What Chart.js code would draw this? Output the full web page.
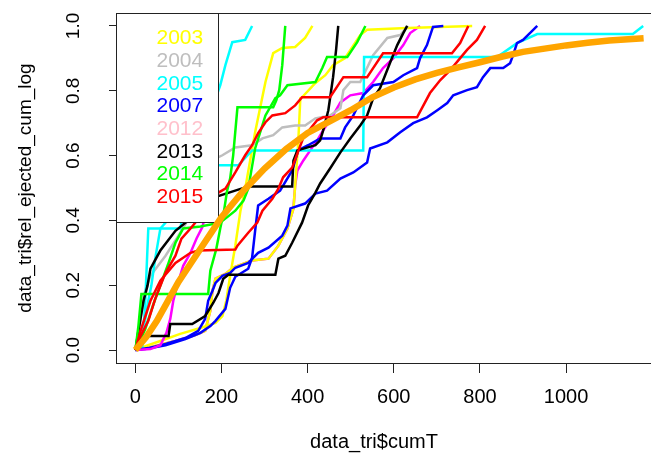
<!DOCTYPE html>
<html>
<head>
<meta charset="utf-8">
<script src="https://cdn.jsdelivr.net/npm/chart.js@4.4.1/dist/chart.umd.min.js"></script>
<style>
  html, body { margin: 0; padding: 0; background: #fff; overflow: hidden; }
  canvas { display: block; }
</style>
</head>
<body>
<canvas id="tri-chart" width="680" height="455"></canvas>
<script>
// legend
const years = ['2003', '2004', '2005', '2007', '2012', '2013', '2014', '2015'];
const yearColors = ['#FFFF00', '#BEBEBE', '#00FFFF', '#0000FF', '#FFC0CB', '#000000', '#00FF00', '#FF0000'];

// axis ticks
const xTicks = [0, 200, 400, 600, 800, 1000];
const yTicks = [0, 0.2, 0.4, 0.6, 0.8, 1.0];
const xTitle = 'data_tri$cumT';
const yTitle = 'data_tri$rel_ejected_cum_log';

// x = data_tri$cumT, y = data_tri$rel_ejected_cum_log
const yellowAX = [2, 23, 58, 104, 151, 186, 202, 211, 220, 232, 244, 255, 278, 302, 320, 341, 371, 394, 411];
const yellowAY = [0, 0.012, 0.028, 0.05, 0.068, 0.084, 0.105, 0.152, 0.229, 0.322, 0.43, 0.498, 0.672, 0.827, 0.916, 0.932, 0.935, 0.963, 1.0];
const yellowBX = [2, 35, 93, 139, 162, 174, 179, 186, 209, 227, 271, 309, 332, 353, 367, 371, 378, 383, 387, 418, 441, 459, 487, 522, 538, 631, 782];
const yellowBY = [0, 0.009, 0.028, 0.046, 0.059, 0.121, 0.183, 0.22, 0.235, 0.254, 0.276, 0.282, 0.322, 0.375, 0.437, 0.508, 0.638, 0.777, 0.78, 0.824, 0.848, 0.879, 0.901, 0.972, 0.988, 0.994, 1.0];

const grayX = [0, 12, 19, 35, 70, 100, 128, 162, 186, 202, 232, 271, 295, 320, 341, 371, 394, 418, 452, 476, 483, 499, 522, 552, 585, 615, 633];
const grayY = [0, 0.09, 0.167, 0.229, 0.291, 0.353, 0.415, 0.508, 0.591, 0.601, 0.625, 0.632, 0.653, 0.663, 0.687, 0.693, 0.693, 0.715, 0.724, 0.746, 0.802, 0.827, 0.827, 0.91, 0.963, 0.972, 1.0];

const cyanAX = [0, 16, 23, 30, 104, 128, 162, 193, 197, 209, 225, 255, 271];
const cyanAY = [0, 0.006, 0.152, 0.375, 0.375, 0.523, 0.678, 0.802, 0.817, 0.879, 0.95, 0.957, 1.0];
const cyanBX = [0, 12, 23, 30, 37, 46, 58, 116, 174, 186, 239, 271, 529, 531, 840, 886, 933, 1155, 1179];
const cyanBY = [0, 0.028, 0.096, 0.152, 0.198, 0.282, 0.375, 0.461, 0.56, 0.57, 0.57, 0.616, 0.616, 0.904, 0.904, 0.947, 0.975, 0.975, 1.0];

const blueAX = [0, 30, 70, 116, 146, 162, 169, 179, 186, 202, 220, 232, 262, 285, 309, 341, 353, 360, 394, 418, 445, 476, 506, 538, 545, 585, 615, 645, 677, 701, 724, 738, 770, 793, 807, 824, 854, 870, 877, 886, 900, 916, 933];
const blueAY = [0, 0.006, 0.019, 0.037, 0.059, 0.096, 0.152, 0.183, 0.207, 0.229, 0.238, 0.254, 0.269, 0.3, 0.316, 0.353, 0.384, 0.437, 0.452, 0.483, 0.492, 0.529, 0.548, 0.579, 0.622, 0.641, 0.672, 0.7, 0.718, 0.74, 0.762, 0.786, 0.802, 0.811, 0.842, 0.87, 0.87, 0.885, 0.91, 0.947, 0.957, 0.978, 1.0];
const blueBX = [0, 23, 70, 116, 151, 174, 186, 209, 220, 232, 262, 271, 278, 285, 309, 336, 364, 378, 401, 429, 476, 487, 506, 529, 552, 599, 622, 654, 661, 677, 691, 715];
const blueBY = [0, 0.003, 0.015, 0.034, 0.053, 0.074, 0.09, 0.127, 0.192, 0.226, 0.251, 0.285, 0.368, 0.446, 0.467, 0.492, 0.554, 0.616, 0.632, 0.653, 0.653, 0.687, 0.724, 0.786, 0.817, 0.827, 0.848, 0.87, 0.901, 0.941, 0.997, 1.0];

// magenta: early run (ends behind the legend) and late run (runs under yellow B at first)
const magentaAX = [0, 35, 58, 72, 81, 88, 97, 111, 128, 142, 155, 170, 175];
const magentaAY = [0, 0.003, 0.015, 0.053, 0.096, 0.152, 0.198, 0.26, 0.3, 0.344, 0.378, 0.45, 1.0];
const magentaBX = [2, 35, 93, 139, 162, 174, 179, 186, 209, 227, 271, 309, 332, 353, 367, 371, 376, 390, 406, 422, 436, 459, 476, 499, 529, 552, 575, 599, 622, 638, 661];
const magentaBY = [0, 0.009, 0.028, 0.046, 0.059, 0.121, 0.183, 0.22, 0.235, 0.254, 0.276, 0.282, 0.322, 0.375, 0.437, 0.508, 0.554, 0.585, 0.616, 0.647, 0.678, 0.724, 0.764, 0.786, 0.793, 0.827, 0.87, 0.901, 0.941, 0.978, 1.0];

const blackAX = [0, 7, 19, 28, 35, 58, 93, 151, 180, 262, 297, 364, 367, 376, 418, 429, 436, 448, 459, 466, 471];
const blackAY = [0, 0.059, 0.152, 0.198, 0.251, 0.307, 0.368, 0.43, 0.47, 0.505, 0.505, 0.505, 0.585, 0.616, 0.632, 0.647, 0.678, 0.74, 0.842, 0.926, 1.0];
const blackBX = [0, 12, 26, 77, 81, 132, 162, 181, 193, 204, 216, 248, 325, 332, 348, 364, 387, 401, 418, 429, 452, 476, 499, 522, 538, 552, 568, 592, 608, 622, 631];
const blackBY = [0, 0.012, 0.043, 0.043, 0.08, 0.08, 0.105, 0.146, 0.176, 0.22, 0.232, 0.232, 0.232, 0.282, 0.291, 0.331, 0.393, 0.446, 0.486, 0.514, 0.56, 0.61, 0.653, 0.693, 0.724, 0.777, 0.808, 0.889, 0.941, 0.978, 1.0];

const greenAX = [0, 7, 14, 169, 174, 188, 197, 206, 213, 220, 227, 237, 320, 327, 334, 341, 348];
const greenAY = [0, 0.074, 0.173, 0.173, 0.245, 0.313, 0.375, 0.431, 0.492, 0.529, 0.6, 0.749, 0.749, 0.77, 0.802, 0.879, 1.0];
const greenBX = [0, 23, 42, 60, 77, 93, 111, 151, 197, 232, 251, 262, 278, 302, 325, 336, 353, 418, 434, 445, 492, 515, 534];
const greenBY = [0, 0.065, 0.142, 0.207, 0.269, 0.331, 0.375, 0.381, 0.393, 0.43, 0.461, 0.498, 0.622, 0.724, 0.777, 0.786, 0.817, 0.827, 0.87, 0.904, 0.904, 0.95, 1.0];

const redAX = [0, 12, 30, 46, 70, 93, 107, 128, 162, 193, 209, 232, 255, 271, 285, 302, 318, 348, 371, 387, 452, 483, 538, 552, 575, 735, 754, 773];
const redAY = [0, 0.043, 0.09, 0.158, 0.238, 0.291, 0.344, 0.375, 0.43, 0.486, 0.498, 0.548, 0.601, 0.632, 0.669, 0.703, 0.724, 0.731, 0.755, 0.78, 0.78, 0.842, 0.842, 0.87, 0.916, 0.916, 0.947, 1.0];
const redBX = [0, 12, 35, 58, 93, 128, 146, 232, 237, 262, 283, 295, 318, 332, 343, 364, 390, 422, 436, 654, 684, 708, 731, 770, 793, 812];
const redBY = [0, 0.059, 0.152, 0.214, 0.269, 0.3, 0.307, 0.31, 0.322, 0.362, 0.393, 0.43, 0.467, 0.498, 0.533, 0.563, 0.656, 0.709, 0.718, 0.718, 0.793, 0.833, 0.864, 0.926, 0.957, 1.0];

// fitted curve
const fitX = [0, 25, 50, 75, 100, 125, 150, 175, 200, 250, 300, 350, 400, 450, 500, 550, 600, 650, 700, 750, 800, 850, 900, 950, 1000, 1050, 1100, 1180];
const fitY = [0, 0.04, 0.09, 0.15, 0.21, 0.26, 0.31, 0.36, 0.41, 0.49, 0.56, 0.62, 0.67, 0.705, 0.74, 0.78, 0.81, 0.835, 0.855, 0.872, 0.888, 0.905, 0.92, 0.93, 0.94, 0.948, 0.955, 0.962];

function toPoints(xs, ys) {
	return xs.map((x, i) => ({ x: x, y: ys[i] }));
}

function series(xs, ys, color, width) {
	return {
		data: toPoints(xs, ys),
		borderColor: color,
		backgroundColor: color,
		borderWidth: width,
		pointRadius: 0,
		tension: 0,
		fill: false,
	};
}

// first dataset is drawn last (on top)
const datasets = [
	series(fitX, fitY, '#FFA500', 6.5),
	series(redAX, redAY, '#FF0000', 2.5),
	series(redBX, redBY, '#FF0000', 2.5),
	series(greenAX, greenAY, '#00FF00', 2.5),
	series(greenBX, greenBY, '#00FF00', 2.5),
	series(blackAX, blackAY, '#000000', 2.5),
	series(blackBX, blackBY, '#000000', 2.5),
	series(magentaAX, magentaAY, '#FF00FF', 2.5),
	series(blueAX, blueAY, '#0000FF', 2.5),
	series(blueBX, blueBY, '#0000FF', 2.5),
	series(cyanAX, cyanAY, '#00FFFF', 2.5),
	series(cyanBX, cyanBY, '#00FFFF', 2.5),
	series(grayX, grayY, '#BEBEBE', 2.5),
	series(yellowAX, yellowAY, '#FFFF00', 2.5),
	series(yellowBX, yellowBY, '#FFFF00', 2.5),
	series(magentaBX, magentaBY, '#FF00FF', 2.5),
];

const font = 'Liberation Sans, Arial, sans-serif';

// R style legend box, drawn just before the fitted curve
const yearLegend = {
	id: 'yearLegend',
	beforeDatasetDraw(chart, args) {
		if (args.index !== 0) {
			return;
		}
		const ctx = chart.ctx;
		const area = chart.chartArea;
		const left = area.left + 0.5;
		const top = area.top + 0.5;
		ctx.save();
		ctx.fillStyle = '#fff';
		ctx.fillRect(left, top, 102, 209);
		ctx.strokeStyle = '#222';
		ctx.lineWidth = 1;
		ctx.strokeRect(left, top, 102, 209);
		ctx.font = '21px ' + font;
		ctx.textAlign = 'left';
		ctx.textBaseline = 'middle';
		years.forEach((label, i) => {
			ctx.fillStyle = yearColors[i];
			ctx.fillText(label, left + 40, top + 25 + i * 22.7);
		});
		ctx.restore();
	},
};

// box round the plot and the x label
const plotFrame = {
	id: 'plotFrame',
	afterDraw(chart) {
		const ctx = chart.ctx;
		const a = chart.chartArea;
		ctx.save();
		ctx.strokeStyle = '#222';
		ctx.lineWidth = 1;
		ctx.strokeRect(a.left + 0.5, a.top + 0.5, a.right - a.left, a.bottom - a.top);
		ctx.fillStyle = '#000';
		ctx.font = '20px ' + font;
		ctx.textAlign = 'center';
		ctx.textBaseline = 'middle';
		ctx.fillText(xTitle, 374, 442);
		ctx.restore();
	},
};

document.addEventListener('DOMContentLoaded', () => {
	const ctx = document.getElementById('tri-chart');

	new Chart(ctx, {
		type: 'line',
		data: { datasets: datasets },
		options: {
			responsive: false,
			animation: false,
			events: [],
			layout: { padding: { top: 13, right: 17, left: 0, bottom: 0 } },
			plugins: {
				legend: { display: false },
				tooltip: { enabled: false },
			},
			scales: {
				x: {
					type: 'linear',
					min: -45,
					max: 1225,
					afterBuildTicks: (scale) => {
						scale.ticks = xTicks.map((v) => ({ value: v }));
					},
					afterFit: (scale) => {
						scale.height = 92;
						scale.paddingLeft = 0;
						scale.paddingRight = 0;
					},
					grid: { drawOnChartArea: false, drawTicks: true, tickLength: 10, color: '#222' },
					border: { display: false },
					ticks: {
						font: { family: font, size: 20 },
						color: '#000',
						padding: 12,
						maxRotation: 0,
						autoSkip: false,
						callback: (v) => String(v),
					},
				},
				y: {
					type: 'linear',
					min: -0.04,
					max: 1.04,
					afterBuildTicks: (scale) => {
						scale.ticks = yTicks.map((v) => ({ value: v }));
					},
					afterFit: (scale) => {
						scale.width = 116;
						scale.paddingTop = 0;
						scale.paddingBottom = 0;
					},
					grid: { drawOnChartArea: false, drawTicks: true, tickLength: 7, color: '#222' },
					border: { display: false },
					ticks: {
						font: { family: font, size: 19 },
						color: '#000',
						minRotation: 90,
						maxRotation: 90,
						crossAlign: 'center',
						padding: 22,
						callback: (v) => Number(v).toFixed(1),
					},
					title: {
						display: true,
						text: yTitle,
						font: { family: font, size: 19 },
						color: '#000',
						padding: { top: 14, bottom: 0 },
					},
				},
			},
		},
		plugins: [yearLegend, plotFrame],
	});
});
</script>
</body>
</html>
